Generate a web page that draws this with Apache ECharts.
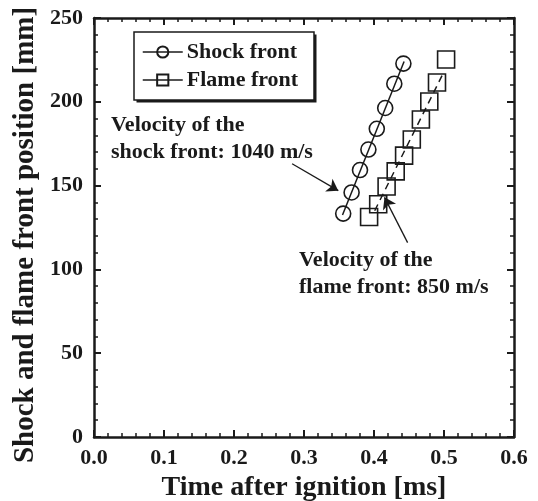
<!DOCTYPE html>
<html>
<head>
<meta charset="utf-8">
<title></title>
<script src="https://cdn.jsdelivr.net/npm/echarts@6/dist/echarts.min.js"></script>
</head>
<body style="margin:0;background-color:#fff;">
<div id="box" style="width:538px;height:501px;"></div>
<script>
    // measured points (time in ms, position in mm)
    var shockTime = [0.356, 0.368, 0.380, 0.392, 0.404, 0.416, 0.429, 0.442];
    var shockPos = [133.3, 145.9, 159.3, 171.5, 183.9, 196.3, 210.8, 222.8];
    var flameTime = [0.393, 0.406, 0.418, 0.431, 0.443, 0.454, 0.467, 0.479, 0.490, 0.503];
    var flamePos = [131.3, 138.9, 149.5, 158.5, 167.9, 177.5, 189.4, 200.2, 211.5, 225.2];
    // fitted lines
    var shockFitTime = [0.355, 0.443];
    var shockFitPos = [132.5, 224];
    var flameFitTime = [0.401, 0.500];
    var flameFitPos = [135, 218];
    // arrows [start, head]
    var shockArrow = [[0.283, 163], [0.349, 147]];
    var flameArrow = [[0.448, 116], [0.415, 143]];

    var font = '"Liberation Serif", "Times New Roman", serif';
    var ink = '#1a1a1a';

    function pairs(xs, ys) {
        var out = [];
        for (var i = 0; i < xs.length; i++) out.push([xs[i], ys[i]]);
        return out;
    }

    var myChart = echarts.init(document.getElementById('box'));

    var axisBase = {
        type: 'value',
        axisLine: { show: true, onZero: false, lineStyle: { color: ink, width: 2.5 } },
        axisTick: { show: true, inside: true, length: 7, lineStyle: { color: ink, width: 2 } },
        minorTick: { show: true, splitNumber: 5, length: 4, lineStyle: { color: ink, width: 1.5 } },
        splitLine: { show: false },
        minorSplitLine: { show: false }
    };

    function xAxis(pos, labels) {
        return Object.assign({}, axisBase, {
            position: pos, min: 0, max: 0.6, interval: 0.1,
            axisLabel: {
                show: labels, margin: 10, color: ink,
                fontFamily: font, fontWeight: 'bold', fontSize: 22,
                formatter: function (v) { return v.toFixed(1); }
            },
            name: labels ? 'Time after ignition [ms]' : '',
            nameLocation: 'middle', nameGap: 31,
            nameTextStyle: { color: ink, fontFamily: font, fontWeight: 'bold', fontSize: 28 }
        });
    }

    function yAxis(pos, labels) {
        return Object.assign({}, axisBase, {
            position: pos, min: 0, max: 250, interval: 50,
            axisLabel: {
                show: labels, margin: 11, color: ink,
                fontFamily: font, fontWeight: 'bold', fontSize: 22
            }
        });
    }

    var option = {
        animation: false,
        backgroundColor: '#fff',
        grid: { left: 94, right: 24, top: 18, bottom: 64, outerBoundsMode: 'none' },
        xAxis: [xAxis('bottom', true), xAxis('top', false)],
        yAxis: [yAxis('left', true), yAxis('right', false)],
        legend: {
            orient: 'vertical',
            left: 134, top: 32,
            padding: [9, 8, 7, 8],
            itemWidth: 40, itemHeight: 14, itemGap: 6,
            textStyle: { color: ink, fontFamily: font, fontWeight: 'bold', fontSize: 22, padding: [0, 0, 0, -1] },
            data: [
                { name: 'Shock front', lineStyle: { color: ink, width: 1.5, opacity: 1 } },
                { name: 'Flame front', lineStyle: { color: ink, width: 1.5, opacity: 1 } }
            ]
        },
        graphic: [
            // legend frame with its drop shadow
            { type: 'rect', z: 0, shape: { x: 136.5, y: 34.5, width: 180, height: 68 }, style: { fill: ink } },
            { type: 'rect', z: 1, shape: { x: 134, y: 32, width: 180, height: 68 },
              style: { fill: '#fff', stroke: ink, lineWidth: 1.5 } },
            {
                type: 'text', x: 26, y: 235, rotation: Math.PI / 2,
                style: {
                    text: 'Shock and flame front position [mm]',
                    font: 'bold 29px ' + font, fill: ink,
                    align: 'center', verticalAlign: 'middle'
                }
            },
            {
                type: 'text', left: 111, top: 112,
                style: {
                    text: 'Velocity of the\nshock front: 1040 m/s',
                    font: 'bold 22px ' + font, fill: ink, lineHeight: 27
                }
            },
            {
                type: 'text', left: 299, top: 247,
                style: {
                    text: 'Velocity of the\nflame front: 850 m/s',
                    font: 'bold 22px ' + font, fill: ink, lineHeight: 27
                }
            }
        ],
        series: [
            {
                name: 'shock fit', type: 'line', silent: true,
                data: pairs(shockFitTime, shockFitPos),
                symbol: 'none',
                lineStyle: { color: ink, width: 1.5 },
                markLine: {
                    silent: true, symbol: ['none', 'arrow'], symbolSize: 11,
                    label: { show: false },
                    lineStyle: { color: ink, width: 1.3, type: 'solid' },
                    data: [
                        [{ coord: shockArrow[0] }, { coord: shockArrow[1] }],
                        [{ coord: flameArrow[0] }, { coord: flameArrow[1] }]
                    ]
                }
            },
            {
                name: 'flame fit', type: 'line', silent: true,
                data: pairs(flameFitTime, flameFitPos),
                symbol: 'none',
                lineStyle: { color: ink, width: 1.5, type: [7, 5] }
            },
            {
                name: 'Shock front', type: 'line',
                data: pairs(shockTime, shockPos),
                symbol: 'circle', symbolSize: 15,
                itemStyle: { color: 'rgba(255,255,255,0)', borderColor: ink, borderWidth: 1.6 },
                lineStyle: { width: 0, opacity: 0 }
            },
            {
                name: 'Flame front', type: 'line',
                data: pairs(flameTime, flamePos),
                symbol: 'rect', symbolSize: 17,
                itemStyle: { color: 'rgba(255,255,255,0)', borderColor: ink, borderWidth: 1.6 },
                lineStyle: { width: 0, opacity: 0 }
            }
        ]
    };

    myChart.setOption(option, true);
</script>
</body>
</html>
